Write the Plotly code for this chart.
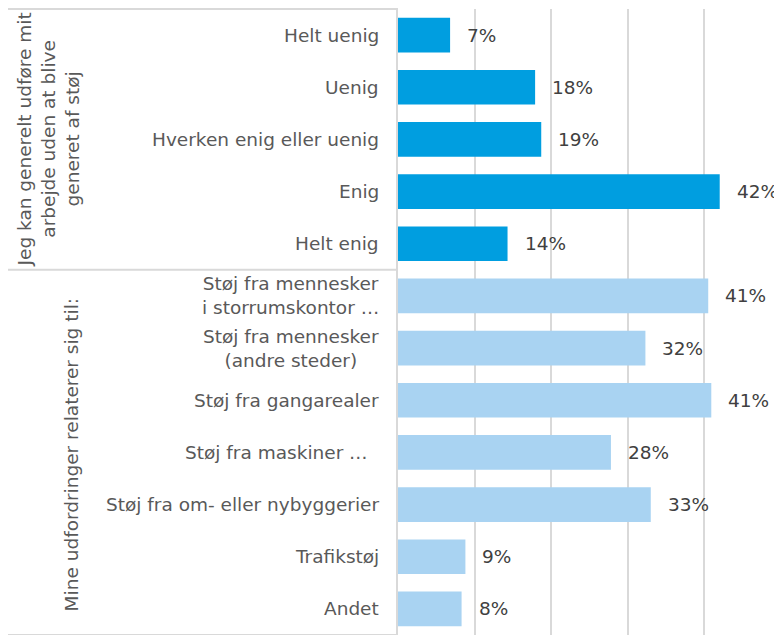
import plotly.graph_objects as go

categories = [
    "Helt uenig",
    "Uenig",
    "Hverken enig eller uenig",
    "Enig",
    "Helt enig",
    "Støj fra mennesker<br>i storrumskontor …",
    "Støj fra mennesker<br>(andre steder)",
    "Støj fra gangarealer",
    "Støj fra maskiner … \u00a0",
    "Støj fra om- eller nybyggerier",
    "Trafikstøj",
    "Andet",
]
values = [6.8, 17.9, 18.7, 42.0, 14.3, 40.5, 32.3, 40.9, 27.8, 33.0, 8.8, 8.3]
value_labels = ["7%", "18%", "19%", "42%", "14%", "41%", "32%", "41%", "28%", "33%", "9%", "8%"]
groups = [0, 0, 0, 0, 0, 1, 1, 1, 1, 1, 1, 1]
group_labels = [
    "Jeg kan generelt udføre mit<br>arbejde uden at blive<br>generet af støj",
    "Mine udfordringer relaterer sig til:",
]
group_colors = ["#009EE0", "#A9D3F2"]

FONT = "DejaVu Sans"
FS = 18.5
OFF = 8  # browser body margin
W, H = 782 - OFF, 635 - OFF          # figure size
R = 1
PW = W - R                           # plot width (margin l=0)
LBL_W = 398 - OFF                    # width of the label column (fig px)
PLOT_TOP = 1                         # bars' plot area starts 1px below figure top

n = len(categories)
idx = list(range(n))

fig = go.Figure()
fig.add_trace(go.Bar(
    x=values, y=idx, orientation="h",
    marker=dict(color=[group_colors[g] for g in groups], line=dict(width=0)),
    width=0.665, hoverinfo="skip", xaxis="x", yaxis="y",
))

# group boundaries -> separator lines in label column (overlay pixel axes)
group_ranges = {}
for i, g in enumerate(groups):
    group_ranges.setdefault(g, []).append(i)
bounds = [-0.5] + [group_ranges[g][-1] + 0.5 for g in sorted(group_ranges)]
plot_h = H - PLOT_TOP
sep_x, sep_y = [], []
for yb in bounds:
    py = PLOT_TOP + (yb + 0.5) / n * plot_h
    sep_x += [0, LBL_W, None]
    sep_y += [py, py, None]
fig.add_trace(go.Scatter(
    x=sep_x, y=sep_y, mode="lines", xaxis="x2", yaxis="y2",
    line=dict(color="#D9D9D9", width=2), hoverinfo="skip", showlegend=False,
))

annotations = []
for i, (c, v, t) in enumerate(zip(categories, values, value_labels)):
    annotations.append(dict(
        x=0, xref="x domain", y=i, yref="y", text=c, showarrow=False,
        xanchor="right", yanchor="middle", xshift=-17, align="center",
        font=dict(family=FONT, size=FS, color="#595959"),
    ))
    annotations.append(dict(
        x=v, xref="x", y=i, yref="y", text=t, showarrow=False,
        xanchor="left", yanchor="middle", xshift=15,
        font=dict(family=FONT, size=FS, color="#404040"),
    ))

group_x_px = [48 - OFF, 71 - OFF]
for g, members in group_ranges.items():
    yc = (members[0] + members[-1]) / 2
    annotations.append(dict(
        x=group_x_px[g], xref="x2", y=yc, yref="y",
        text=group_labels[g], showarrow=False, textangle=-90,
        xanchor="center", yanchor="middle", align="center",
        yshift=-3 if g == 1 else 0,
        font=dict(family=FONT, size=FS, color="#595959"),
    ))

fig.update_layout(
    width=W, height=H,
    margin=dict(l=0, r=R, t=0, b=0),
    paper_bgcolor="white", plot_bgcolor="white",
    showlegend=False,
    bargap=0.335,
    annotations=annotations,
    xaxis=dict(domain=[LBL_W / PW, 1], range=[0, 50], dtick=10, showgrid=True,
               gridcolor="#D9D9D9", gridwidth=2, showticklabels=False,
               zeroline=False, ticks="", fixedrange=True, anchor="y"),
    yaxis=dict(domain=[0, plot_h / H], range=[n - 0.5, -0.5], showticklabels=False,
               showgrid=False, zeroline=False, showline=True,
               linecolor="#D9D9D9", linewidth=2, ticks="", fixedrange=True,
               anchor="x"),
    xaxis2=dict(domain=[0, LBL_W / PW], range=[0, LBL_W], visible=False,
                fixedrange=True, anchor="y2"),
    yaxis2=dict(domain=[0, 1], range=[H, 0], visible=False,
                fixedrange=True, anchor="x2"),
)

fig.write_html("out.html")
